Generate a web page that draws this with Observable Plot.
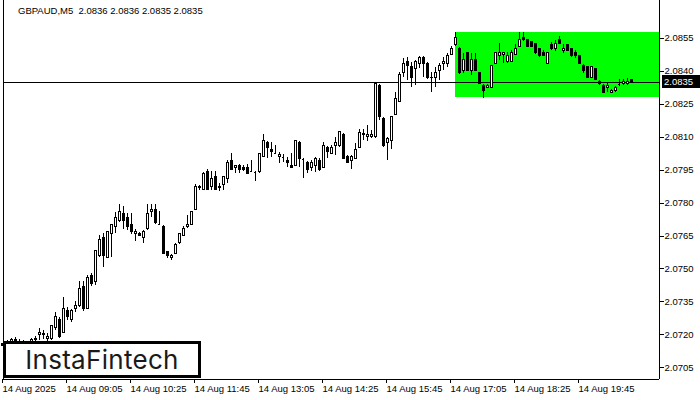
<!DOCTYPE html>
<html><head><meta charset="utf-8">
<script src="https://cdn.jsdelivr.net/npm/d3@7"></script>
<script src="https://cdn.jsdelivr.net/npm/@observablehq/plot@0.6"></script>
<style>
html,body{margin:0;padding:0;background:#fff;}
#wrap{position:relative;width:700px;height:400px;overflow:hidden;font-family:"Liberation Sans",Arial,sans-serif;}
#wrap svg{position:absolute;left:0;top:0;}
#wrap svg rect, #wrap svg line, #wrap svg path{shape-rendering:crispEdges;}
#title{position:absolute;left:18px;top:5px;font-size:9.5px;color:#000;white-space:pre;line-height:12px;}
#logo{position:absolute;left:3px;top:341px;width:198px;height:37px;box-sizing:border-box;background:#fff;border:3px solid #000;display:flex;align-items:center;justify-content:center;font-family:Inter,"Noto Sans",sans-serif;font-size:26px;color:#1a1a1a;letter-spacing:0.3px;}
#last{position:absolute;left:662px;width:38px;height:13px;background:#000;color:#fff;font-size:9.5px;line-height:13px;text-align:left;padding-left:2px;box-sizing:border-box;}
</style></head>
<body>
<div id="wrap">
  <div id="title">GBPAUD,M5  2.0836 2.0836 2.0835 2.0835</div>
</div>
<script>
const opens = [
2.07152,2.07161,2.07166,2.07175,2.0717,2.07161,2.07152,2.07166,2.07175,2.07202,
2.072,2.07184,2.0718,2.0723,2.0727,2.07211,2.07311,2.07266,2.0732,2.07334,
2.0742,2.0732,2.0747,2.07439,2.07557,2.07643,2.07552,2.07661,2.07689,2.07716,
2.07752,2.07734,2.07702,2.07661,2.07661,2.07643,2.0768,2.07761,2.0777,2.07702,
2.07693,2.07575,2.07552,2.0757,2.07616,2.07652,2.07689,2.07702,2.0777,2.07866,
2.07857,2.07943,2.07871,2.0792,2.07866,2.0788,2.07911,2.07993,2.07961,2.0797,
2.07961,2.07961,2.07943,2.07939,2.07939,2.08011,2.08075,2.08043,2.08025,2.08011,
2.08007,2.07993,2.0797,2.0797,2.08075,2.07998,2.07984,2.07957,2.07966,2.07993,
2.07961,2.08052,2.08025,2.08057,2.08057,2.08111,2.08011,2.07989,2.08002,2.08052,
2.08111,2.08098,2.08098,2.08098,2.08334,2.08184,2.08075,2.08084,2.08202,2.08261,
2.08393,2.08439,2.08416,2.08407,2.08434,2.08457,2.08434,2.0837,2.08366,2.08402,
2.08434,2.08434,2.08475,2.08516,2.08502,2.08402,2.0848,2.08398,2.08452,2.08389,
2.08334,2.08325,2.08325,2.08434,2.0847,2.08475,2.08439,2.08443,2.08475,2.08511,
2.08548,2.08539,2.0853,2.08525,2.08498,2.08484,2.08434,2.0852,2.08498,2.08539,
2.08489,2.08516,2.08498,2.08484,2.08466,2.08425,2.08416,2.0837,2.08407,2.08352,
2.08334,2.08325,2.08302,2.08307,2.08339,2.08343,2.08343,2.0836];
const highs = [
2.0717,2.07175,2.07184,2.07189,2.0718,2.07175,2.0717,2.07184,2.07193,2.0723,
2.0722,2.07207,2.07243,2.07302,2.0728,2.0737,2.07325,2.07316,2.07352,2.07443,
2.07443,2.0747,2.0748,2.0758,2.07652,2.07661,2.07666,2.07702,2.07757,2.07793,
2.07784,2.07752,2.07752,2.0768,2.07666,2.07675,2.07793,2.07793,2.07793,2.07761,
2.07698,2.0758,2.07566,2.07616,2.07661,2.07693,2.07743,2.07761,2.07884,2.0788,
2.07939,2.07952,2.07943,2.07943,2.07889,2.0792,2.07993,2.08025,2.0797,2.07975,
2.0797,2.07975,2.07993,2.07943,2.08025,2.08111,2.0808,2.08075,2.08061,2.0803,
2.0802,2.08007,2.08025,2.08084,2.0808,2.08002,2.07989,2.07993,2.08007,2.08002,
2.08075,2.08057,2.08061,2.08098,2.08125,2.08116,2.08016,2.08016,2.0807,2.08134,
2.08134,2.08152,2.0813,2.08343,2.08339,2.08189,2.08098,2.08193,2.08302,2.08393,
2.08457,2.08461,2.08439,2.08448,2.08466,2.08466,2.08439,2.08393,2.08416,2.08434,
2.08461,2.0848,2.08511,2.08575,2.08507,2.0848,2.08484,2.0848,2.0848,2.08393,
2.08339,2.08339,2.08425,2.0848,2.08525,2.08484,2.08484,2.08493,2.0852,2.08575,
2.08575,2.08543,2.08534,2.08525,2.08502,2.08493,2.08484,2.0853,2.08539,2.08557,
2.0852,2.08516,2.08502,2.08493,2.0847,2.0843,2.0842,2.08416,2.08411,2.08357,
2.08339,2.08348,2.08316,2.0833,2.08361,2.08361,2.08366,2.0836];
const lows = [
2.07134,2.07143,2.07152,2.07157,2.07148,2.07139,2.07134,2.07152,2.07161,2.07175,
2.0718,2.0717,2.07175,2.0722,2.07184,2.07211,2.07266,2.07257,2.07302,2.07325,
2.07307,2.0732,2.0742,2.07425,2.07552,2.07507,2.07548,2.07552,2.07661,2.07711,
2.0768,2.07675,2.07657,2.07625,2.07648,2.07616,2.07675,2.07734,2.07702,2.07698,
2.07566,2.07548,2.07539,2.07566,2.07611,2.07648,2.07684,2.07698,2.07766,2.07857,
2.07857,2.07857,2.07857,2.07857,2.07852,2.07857,2.07889,2.07948,2.07934,2.07934,
2.07943,2.0793,2.07939,2.07898,2.07934,2.08007,2.08002,2.08007,2.0802,2.0798,
2.07984,2.07961,2.07957,2.07966,2.07961,2.07911,2.07934,2.07943,2.07939,2.07943,
2.07957,2.08002,2.0802,2.08016,2.08052,2.08002,2.0798,2.07952,2.07998,2.08048,
2.08084,2.0808,2.08093,2.08093,2.08175,2.08052,2.07993,2.08043,2.08198,2.08257,
2.0837,2.08357,2.08325,2.08334,2.08411,2.0837,2.08361,2.08302,2.08325,2.08357,
2.08402,2.08416,2.0847,2.08511,2.08384,2.08389,2.08402,2.0838,2.08398,2.08339,
2.08275,2.0832,2.0832,2.0843,2.08448,2.08434,2.08434,2.08439,2.0847,2.08507,
2.08534,2.08507,2.08507,2.08475,2.08461,2.08466,2.0843,2.08493,2.08489,2.0852,
2.0848,2.08489,2.08461,2.08457,2.0843,2.08389,2.08366,2.08366,2.08357,2.08334,
2.08298,2.08302,2.08298,2.08302,2.0833,2.08334,2.08334,2.0835];
const closes = [
2.07161,2.07166,2.07175,2.0717,2.07161,2.07152,2.07166,2.07175,2.07184,2.07211,
2.07205,2.07189,2.07239,2.0728,2.07189,2.0732,2.0728,2.07311,2.0733,2.07411,
2.0732,2.07461,2.0743,2.0758,2.0763,2.07557,2.07666,2.07702,2.07734,2.07761,
2.07716,2.07689,2.07666,2.0767,2.07652,2.0767,2.07752,2.07766,2.07707,2.077,
2.0757,2.07557,2.07561,2.07611,2.07661,2.0768,2.07702,2.07761,2.07871,2.07871,
2.07934,2.07861,2.07911,2.07857,2.07871,2.0792,2.07984,2.07952,2.07966,2.07952,
2.07948,2.07934,2.0794,2.07939,2.08025,2.08084,2.08048,2.0803,2.08025,2.08016,
2.08007,2.0798,2.07957,2.08084,2.08002,2.07998,2.07952,2.07984,2.08002,2.07952,
2.08061,2.0803,2.08052,2.08075,2.08125,2.08002,2.07984,2.08011,2.08043,2.0812,
2.08114,2.08111,2.08111,2.08343,2.08193,2.08061,2.08093,2.08193,2.08275,2.08384,
2.08434,2.08425,2.08366,2.08443,2.08461,2.08434,2.08366,2.08366,2.08393,2.08425,
2.08443,2.08466,2.08502,2.08548,2.08389,2.08452,2.08402,2.08452,2.08402,2.08343,
2.08307,2.08334,2.08425,2.0848,2.0848,2.0848,2.08466,2.08484,2.08502,2.08543,
2.08539,2.08511,2.08511,2.0848,2.08466,2.0847,2.08484,2.08498,2.08525,2.08525,
2.08502,2.08493,2.08466,2.08466,2.0843,2.08398,2.0837,2.08416,2.08361,2.08339,
2.08298,2.08334,2.08311,2.08325,2.08339,2.08352,2.08352,2.0835];

const xTickIdx = [0,16,32,48,64,80,96,112,128,144];
const xLabels = ["14 Aug 2025","14 Aug 09:05","14 Aug 10:25","14 Aug 11:45","14 Aug 13:05","14 Aug 14:25","14 Aug 15:45","14 Aug 17:05","14 Aug 18:25","14 Aug 19:45"];
const yTicks = [2.0705,2.0720,2.0735,2.0750,2.0765,2.0780,2.0795,2.0810,2.0825,2.0840,2.0855];
const xDomain = [0,164];
const yDomain = [2.069977,2.087205];
const lastPrice = 2.0835;
const patternStart = 113, patternTop = 2.08575, patternBottom = 2.0828;

const data = opens.map((o,i)=>({i, open:o, high:highs[i], low:lows[i], close:closes[i], up: closes[i] >= o}));
const bodies = data.filter(d => Math.abs(d.open - d.close) >= 0.00003);
const dojis = data.filter(d => Math.abs(d.open - d.close) < 0.00003);
const box = [{x1: patternStart, x2: xDomain[1], y1: patternBottom, y2: patternTop}];

const chart = Plot.plot({
  width:700, height:400, marginLeft:3, marginRight:41, marginTop:0, marginBottom:21,
  style:{fontFamily:'"Liberation Sans", Arial, sans-serif', fontSize:"9.5px", background:"transparent", color:"#000", overflow:"visible"},
  x:{type:"linear", domain:xDomain, axis:null},
  y:{domain:yDomain, axis:null},
  marks:[
    Plot.rect(box, {x1:"x1", x2:"x2", y1:"y1", y2:"y2", fill:"#00ff00"}),
    Plot.ruleY([lastPrice], {stroke:"#000", strokeWidth:1}),
    Plot.ruleX(data, {x:"i", y1:"low", y2:"high", stroke:"#000", strokeWidth:1}),
    Plot.rect(bodies, {x1:d=>d.i-0.25, x2:d=>d.i+0.25, y1:"open", y2:"close", fill:d=>d.up?"#ffffff":"#000000", stroke:"#000", strokeWidth:1}),
    Plot.ruleY(dojis, {y:"open", x1:d=>d.i-0.3, x2:d=>d.i+0.3, stroke:"#000", strokeWidth:1}),
    Plot.ruleX([xDomain[0]], {stroke:"#000"}),
    Plot.ruleX([xDomain[1]], {stroke:"#000"}),
    Plot.ruleY([yDomain[0]], {stroke:"#000"}),
    Plot.axisY({anchor:"right", ticks:yTicks, tickFormat:d=>d.toFixed(4), tickSize:4, tickPadding:1, fill:"#000", stroke:"#000"}),
    Plot.axisX({anchor:"bottom", ticks:xTickIdx, tickFormat:d=>xLabels[xTickIdx.indexOf(d)], tickSize:4, tickPadding:2, textAnchor:"start", dx:-1, fill:"#000", stroke:"#000"})
  ]
});
const wrap = document.getElementById("wrap");
wrap.insertBefore(chart, wrap.firstChild);

const ly = chart.scale("y").apply(lastPrice);
const last = document.createElement("div");
last.id = "last";
last.textContent = lastPrice.toFixed(4);
last.style.top = (ly - 6.5) + "px";
wrap.appendChild(last);

const logo = document.createElement("div");
logo.id = "logo";
logo.textContent = "InstaFintech";
wrap.appendChild(logo);
</script>
</body></html>
